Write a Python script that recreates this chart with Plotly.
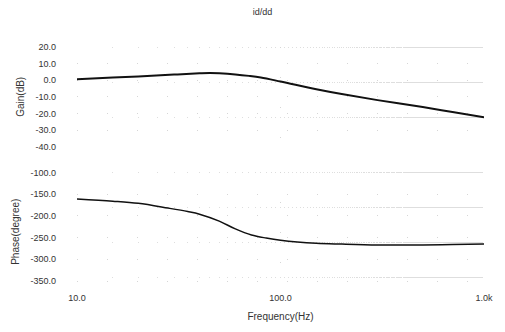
import plotly.graph_objects as go
from plotly.subplots import make_subplots

freq_gain = [10, 15, 20, 30, 40, 45, 50, 60, 70, 80, 100, 150, 200, 300, 500, 700, 1000]
gain_db = [0.6, 1.6, 2.3, 3.4, 4.2, 4.4, 4.2, 3.5, 2.6, 1.6, -0.8, -5.4, -8.3, -12.0, -16.2, -19.2, -22.4]

freq_phase = [10, 15, 20, 28, 35, 40, 50, 60, 72, 85, 100, 150, 200, 300, 500, 700, 1000]
phase_deg = [-161, -166, -171, -182, -190, -196, -212, -230, -244, -251, -256, -263, -265, -267, -267, -266, -265]

x_tickvals = [10, 100, 1000]
x_ticktext = ["10.0", "100.0", "1.0k"]
gain_ticks = [20, 10, 0, -10, -20, -30, -40]
phase_ticks = [-100, -150, -200, -250, -300, -350]

fig = make_subplots(rows=2, cols=1, shared_xaxes=True)

fig.add_trace(go.Scatter(x=freq_gain, y=gain_db, mode="lines", line_shape="spline",
                         line=dict(color="#111111", width=2), showlegend=False), row=1, col=1)
fig.add_trace(go.Scatter(x=freq_phase, y=phase_deg, mode="lines", line_shape="spline",
                         line=dict(color="#111111", width=1.5), showlegend=False), row=2, col=1)

font = dict(family="Liberation Sans, Arial, sans-serif", size=9, color="#333333")
title_font = dict(family="Liberation Sans, Arial, sans-serif", size=10, color="#333333")
grid = dict(showgrid=True, gridcolor="#d6d6d6", gridwidth=1, griddash="1px,29px", zeroline=False,
            showline=False, ticks="")

minor = dict(showgrid=True, gridcolor="#dedede", griddash="1px,34px", ticks="")

fig.update_xaxes(type="log", range=[1, 3], tickvals=x_tickvals, ticktext=x_ticktext,
                 minor=minor, **grid)
fig.update_xaxes(showticklabels=False, row=1, col=1)
fig.update_xaxes(title=dict(text="Frequency(Hz)", font=title_font, standoff=10), row=2, col=1)

fig.update_yaxes(range=[-40, 20], tickvals=gain_ticks,
                 ticktext=[f"{v:.1f}" for v in gain_ticks], ticklabelstandoff=20,
                 title=dict(text="Gain(dB)", font=title_font, standoff=8),
                 domain=[0.5918, 1.0], row=1, col=1, **grid)
fig.update_yaxes(range=[-373, -100], tickvals=phase_ticks,
                 ticktext=[f"{v:.1f}" for v in phase_ticks], ticklabelstandoff=20,
                 title=dict(text="Phase(degree)", font=title_font, standoff=8),
                 domain=[0.0, 0.4857], row=2, col=1, **grid)

fig.update_layout(
    width=505, height=332,
    margin=dict(l=77, r=15, t=47, b=40),
    paper_bgcolor="white", plot_bgcolor="white",
    font=font,
    title=dict(text="id/dd", x=0.52, xanchor="center", y=0.965, yanchor="middle",
               font=dict(family="Liberation Sans, Arial, sans-serif", size=9, color="#333333")),
)

fig.write_html("out.html")
